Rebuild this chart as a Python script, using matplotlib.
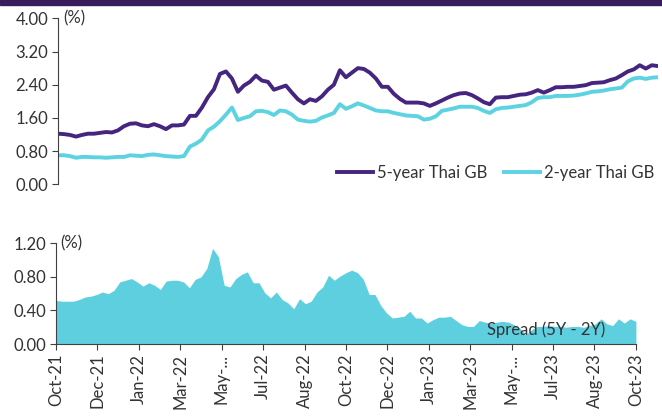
import numpy as np
import matplotlib.pyplot as plt
from matplotlib.ticker import FormatStrFormatter

plt.rcParams['font.family'] = ['Lato', 'DejaVu Sans']

# 5-year and 2-year Thai government bond yields (%)
yield_5y = [1.22, 1.21, 1.19, 1.15, 1.19, 1.22, 1.22, 1.24, 1.26, 1.25,
            1.30, 1.40, 1.46, 1.47, 1.42, 1.40, 1.45, 1.40, 1.33, 1.42,
            1.42, 1.44, 1.65, 1.65, 1.85, 2.10, 2.29, 2.66, 2.72, 2.55,
            2.23, 2.38, 2.47, 2.62, 2.50, 2.47, 2.28, 2.33, 2.38, 2.21,
            2.05, 1.95, 2.05, 2.01, 2.12, 2.28, 2.40, 2.75, 2.58, 2.69,
            2.80, 2.78, 2.69, 2.55, 2.35, 2.35, 2.18, 2.06, 1.97, 1.97,
            1.97, 1.95, 1.89, 1.95, 2.02, 2.09, 2.15, 2.19, 2.20, 2.15,
            2.07, 1.98, 1.93, 2.09, 2.10, 2.10, 2.13, 2.16, 2.17, 2.21,
            2.27, 2.21, 2.27, 2.34, 2.34, 2.35, 2.35, 2.37, 2.39, 2.44,
            2.45, 2.46, 2.51, 2.55, 2.63, 2.72, 2.77, 2.87, 2.79, 2.87,
            2.85]
yield_2y = [0.70, 0.70, 0.68, 0.64, 0.66, 0.66, 0.65, 0.65, 0.64, 0.65,
            0.66, 0.66, 0.70, 0.69, 0.68, 0.71, 0.72, 0.70, 0.68, 0.67,
            0.66, 0.68, 0.91, 0.98, 1.08, 1.30, 1.39, 1.52, 1.68, 1.85,
            1.55, 1.60, 1.64, 1.76, 1.77, 1.74, 1.67, 1.78, 1.76, 1.68,
            1.56, 1.53, 1.51, 1.53, 1.61, 1.66, 1.72, 1.93, 1.82, 1.88,
            1.95, 1.90, 1.84, 1.78, 1.76, 1.76, 1.72, 1.69, 1.66, 1.65,
            1.64, 1.56, 1.58, 1.64, 1.77, 1.80, 1.83, 1.87, 1.87, 1.87,
            1.84, 1.77, 1.72, 1.81, 1.84, 1.85, 1.87, 1.89, 1.91, 1.98,
            2.08, 2.10, 2.10, 2.13, 2.13, 2.13, 2.14, 2.16, 2.19, 2.23,
            2.24, 2.26, 2.29, 2.31, 2.33, 2.48, 2.55, 2.57, 2.54, 2.57,
            2.58]

tick_labels = ['Oct-21', 'Dec-21', 'Jan-22', 'Mar-22', 'May-...', 'Jul-22',
               'Aug-22', 'Oct-22', 'Dec-22', 'Jan-23', 'Mar-23', 'May-...',
               'Jul-23', 'Aug-23', 'Oct-23']

y5 = np.array(yield_5y)
y2 = np.array(yield_2y)
spread = y5 - y2
x = np.arange(len(y5))

purple = '#45257f'
cyan = '#5dd3e2'
fill_col = '#5ecfdf'
txt = '#333333'
spine_col = '#404040'

fig = plt.figure(figsize=(6.62, 4.17), dpi=100)

# dark band at the top of the page
fig.patches.append(plt.Rectangle((0, 0.988), 1, 0.012, transform=fig.transFigure,
                                 color='#3a1b5c', zorder=0))

# top panel: yields
ax1 = fig.add_axes([0.0876, 0.558, 0.906, 0.398])
ax1.plot(x, y5, color=purple, lw=2.8, label='5-year Thai GB')
ax1.plot(x, y2, color=cyan, lw=2.8, label='2-year Thai GB')
ax1.set_xlim(0, len(x) - 1)
ax1.set_ylim(0, 4)
ax1.set_yticks(np.arange(0, 4.01, 0.8))
ax1.yaxis.set_major_formatter(FormatStrFormatter('%.2f'))
ax1.set_xticks([])
for s in ['top', 'right', 'bottom']:
    ax1.spines[s].set_visible(False)
ax1.spines['left'].set_color(spine_col)
ax1.tick_params(axis='y', length=4, color=spine_col, labelsize=12, labelcolor=txt, pad=3)
ax1.text(0.008, 1.0, '(%)', transform=ax1.transAxes, ha='left', va='center',
         fontsize=12, color=txt)
ax1.legend(loc='lower right', ncol=2, frameon=False, fontsize=12, handlelength=2.2,
           handletextpad=0.2, columnspacing=1.0, borderaxespad=0.0,
           bbox_to_anchor=(1.005, -0.02), labelcolor=txt)

# bottom panel: spread
ax2 = fig.add_axes([0.0846, 0.175, 0.876, 0.2415])
ax2.fill_between(x, 0, spread, color=fill_col, lw=0)
ax2.set_xlim(0, len(x) - 1)
ax2.set_ylim(0, 1.2)
ax2.set_yticks(np.arange(0, 1.21, 0.4))
ax2.yaxis.set_major_formatter(FormatStrFormatter('%.2f'))
ax2.set_xticks(np.linspace(0, len(x) - 1, len(tick_labels)))
ax2.set_xticklabels(tick_labels, rotation=90)
for s in ['top', 'right']:
    ax2.spines[s].set_visible(False)
ax2.spines['left'].set_color(spine_col)
ax2.spines['bottom'].set_color(spine_col)
ax2.tick_params(length=4, color=spine_col, labelsize=12, labelcolor=txt, pad=3)
ax2.text(0.008, 1.0, '(%)', transform=ax2.transAxes, ha='left', va='center',
         fontsize=12, color=txt)
ax2.text(0.845, 0.14, 'Spread (5Y - 2Y)', transform=ax2.transAxes, ha='center',
         va='center', fontsize=12, color=txt)

fig.savefig('out.png', dpi=100)
